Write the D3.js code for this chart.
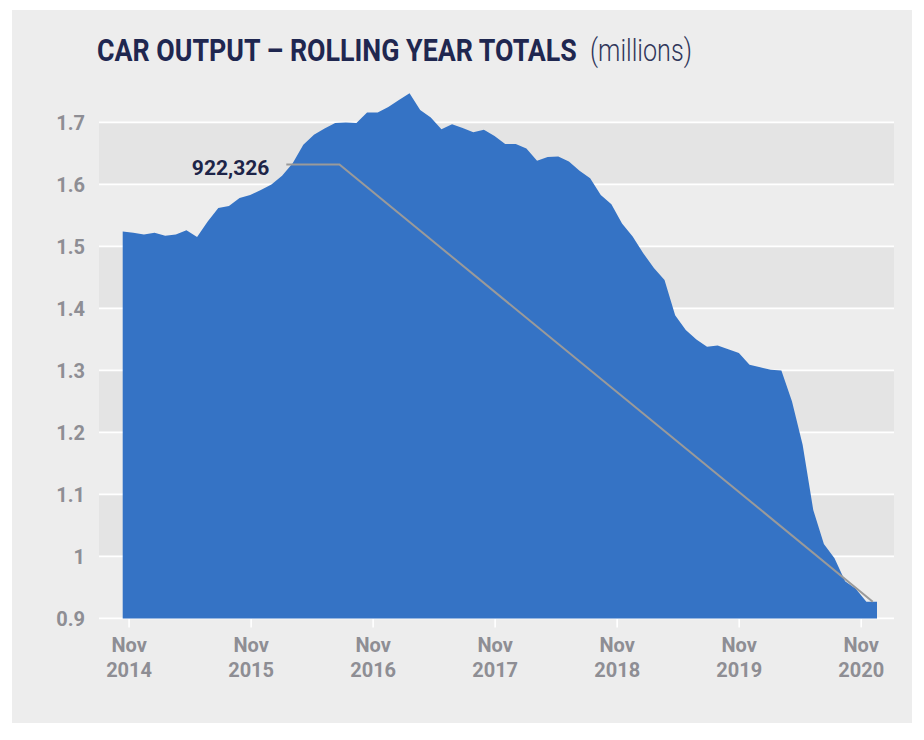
<!DOCTYPE html>
<html>
<head>
<meta charset="utf-8">
<script src="https://cdn.jsdelivr.net/npm/d3@7"></script>
<style>
  html, body { margin: 0; padding: 0; background: #ffffff; }
  svg { display: block; }
</style>
</head>
<body>
<svg id="chart" width="924" height="740"></svg>
<script>
// ---- data ----
const titleMain = "CAR OUTPUT – ROLLING YEAR TOTALS";
const titleUnit = "(millions)";
const firstMonth = new Date(2014, 10, 1); // Nov 2014
// rolling-year car output (millions), monthly, Nov 2014 .. Oct 2020
const output = [
  1.524, 1.522, 1.519, 1.522, 1.517, 1.519, 1.526, 1.515, 1.540, 1.562, 1.565, 1.578,
  1.583, 1.591, 1.600, 1.614, 1.634, 1.664, 1.680, 1.690, 1.699, 1.700, 1.699, 1.716,
  1.716, 1.725, 1.736, 1.747, 1.720, 1.708, 1.689, 1.697, 1.691, 1.684, 1.688, 1.678,
  1.665, 1.665, 1.658, 1.638, 1.644, 1.645, 1.637, 1.622, 1.610, 1.583, 1.568, 1.537,
  1.516, 1.489, 1.465, 1.446, 1.389, 1.365, 1.350, 1.338, 1.340, 1.334, 1.328, 1.309,
  1.305, 1.301, 1.300, 1.250, 1.180, 1.075, 1.020, 0.997, 0.960, 0.948, 0.927, 0.927
];
const yTicks = [0.9, 1, 1.1, 1.2, 1.3, 1.4, 1.5, 1.6, 1.7];
const xTickLabels = ["Nov 2014", "Nov 2015", "Nov 2016", "Nov 2017", "Nov 2018", "Nov 2019", "Nov 2020"];
const annotationLabel = "922,326";
const annotationLevel = 1.632;          // height of the leader's horizontal run
const annotationStartIndex = 15.4;      // leader start (month index)
const annotationElbowIndex = 20.4;      // leader elbow (month index)

// ---- layout ----
const panel = {x: 12, y: 10, w: 900, h: 713};
const plot = {left: 99, right: 894, top: 122.4, bottom: 618.4};
const FONT = "Roboto, 'DejaVu Sans', sans-serif";

const svg = d3.select("#chart");
svg.append("rect").attr("x", panel.x).attr("y", panel.y).attr("width", panel.w).attr("height", panel.h)
  .attr("fill", "#ededed");

const months = output.map((v, i) => d3.timeMonth.offset(firstMonth, i));
const data = output.map((v, i) => ({i, date: months[i], v}));

const x = d3.scaleLinear().domain([0, output.length - 1]).range([122.7, 877.0]);
const y = d3.scaleLinear().domain([0.9, 1.7]).range([plot.bottom, plot.top]);
const xTicks = d3.scalePoint().domain(xTickLabels).range([128.6, 860.7]);

// alternating bands
const bands = d3.pairs(yTicks).filter((p, k) => k % 2 === 1);
svg.append("g").selectAll("rect").data(bands).join("rect")
  .attr("x", plot.left).attr("width", plot.right - plot.left)
  .attr("y", d => y(d[1])).attr("height", d => y(d[0]) - y(d[1]))
  .attr("fill", "#e4e4e4");

// gridlines
svg.append("g").selectAll("line").data(yTicks).join("line")
  .attr("x1", plot.left).attr("x2", plot.right)
  .attr("y1", d => y(d)).attr("y2", d => y(d))
  .attr("stroke", "#ffffff").attr("stroke-width", 1.6);

// y labels
const yAxis = d3.axisLeft(y).tickValues(yTicks).tickFormat(d3.format("~g")).tickSize(0).tickPadding(0);
const gy = svg.append("g").attr("transform", "translate(85,0)").call(yAxis);
gy.select(".domain").remove();
gy.selectAll("text")
  .attr("font-family", FONT)
  .attr("font-weight", "bold").attr("font-size", 20).attr("fill", "#8e8e94")
  .attr("dy", "0.36em");

// x axis
const xAxis = d3.axisBottom(xTicks).tickSize(9).tickPadding(0).tickFormat("");
const gx = svg.append("g").attr("transform", `translate(0,${plot.bottom})`).call(xAxis);
gx.select(".domain").remove();
gx.selectAll(".tick line").attr("stroke", "#ffffff").attr("stroke-width", 1.6);
gx.selectAll(".tick").each(function(d) {
  const parts = d.split(" ");
  const t = d3.select(this).append("text")
    .attr("text-anchor", "middle")
    .attr("font-family", FONT)
    .attr("font-weight", "bold").attr("font-size", 20).attr("fill", "#8e8e94");
  t.append("tspan").attr("x", 0).attr("y", 33.3).text(parts[0]);
  t.append("tspan").attr("x", 0).attr("y", 58.9).text(parts[1]);
});

// area
const area = d3.area().x(d => x(d.i)).y0(y(0.9)).y1(d => y(d.v)).curve(d3.curveLinear);
svg.append("path").datum(data).attr("d", area).attr("fill", "#3573c5");

// annotation leader
const last = data[data.length - 1];
const leader = [
  [x(annotationStartIndex), y(annotationLevel)],
  [x(annotationElbowIndex), y(annotationLevel)],
  [x(last.i - 0.4), y(last.v)]
];
svg.append("path").attr("d", d3.line()(leader))
  .attr("fill", "none").attr("stroke", "#9a9a9a").attr("stroke-width", 2);
svg.append("text")
  .attr("x", x(annotationStartIndex) - 17).attr("y", y(annotationLevel) + 10)
  .attr("text-anchor", "end")
  .attr("font-family", FONT)
  .attr("font-weight", "bold").attr("font-size", 21).attr("fill", "#1d2448")
  .text(annotationLabel);

// title: condensed by horizontal scaling to the reference widths
function condensedText(txt, x0, y0, width, weight, fill) {
  const g = svg.append("g");
  const t = g.append("text").attr("x", 0).attr("y", 0)
    .attr("font-family", FONT).attr("font-weight", weight)
    .attr("font-size", 31).attr("fill", fill).text(txt);
  const natural = t.node().getComputedTextLength();
  g.attr("transform", `translate(${x0},${y0}) scale(${width / natural},1)`);
}
condensedText(titleMain, 97, 61, 480, "bold", "#1f2750");
condensedText(titleUnit, 590, 61, 102, 300, "#30365a");
</script>
</body>
</html>
